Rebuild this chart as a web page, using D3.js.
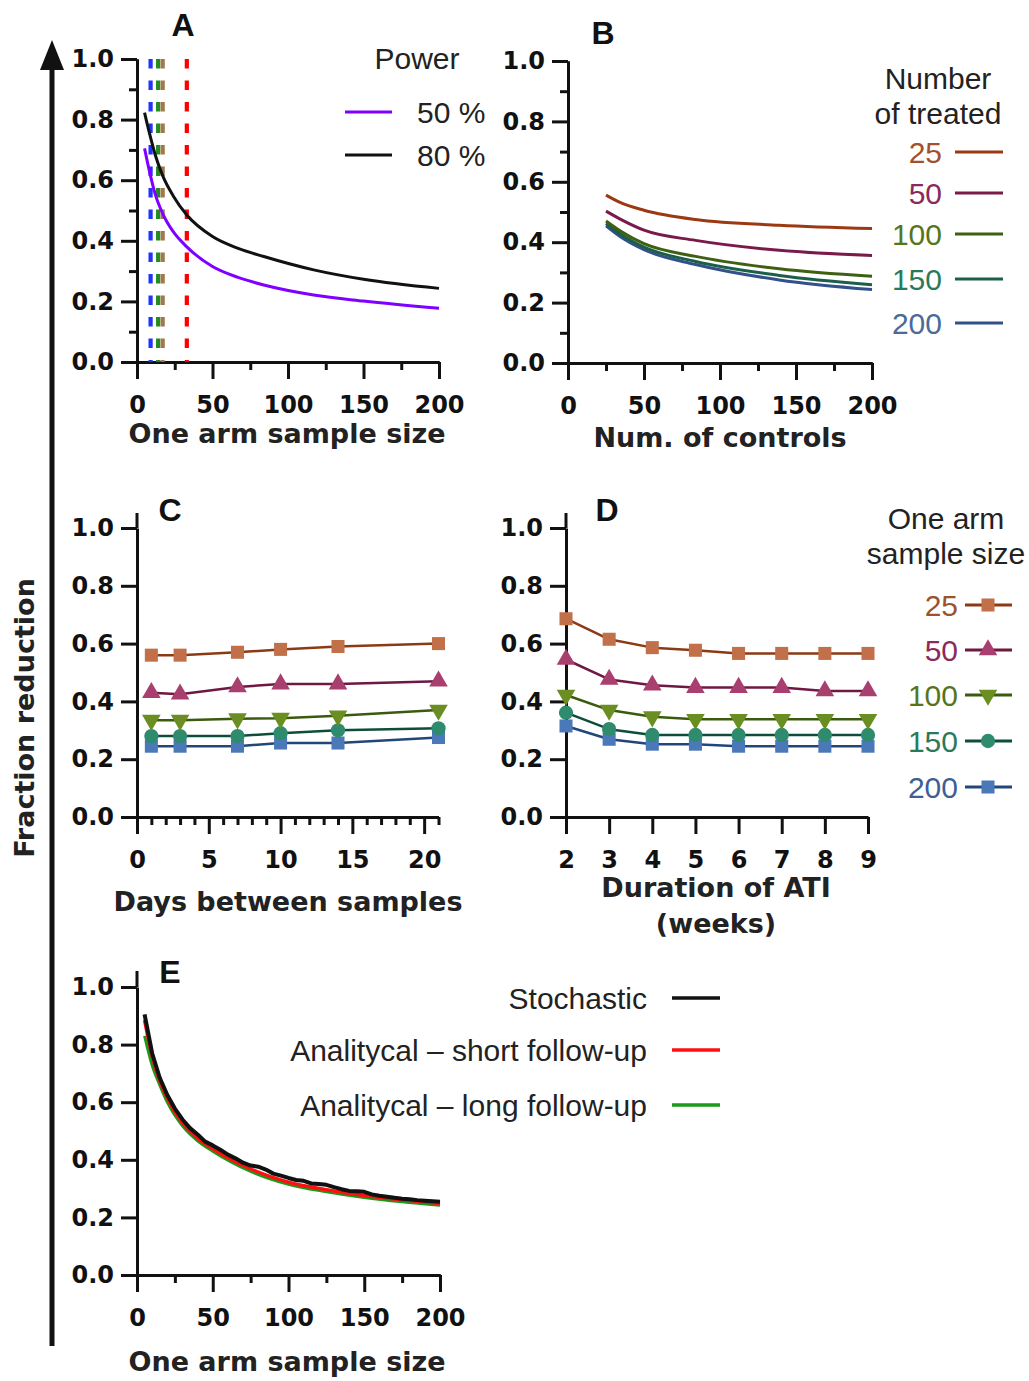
<!DOCTYPE html>
<html>
<head>
<meta charset="utf-8">
<script src="https://cdn.jsdelivr.net/npm/d3@7"></script>
<style>
body { margin: 0; background: #fff; }
</style>
</head>
<body>
<svg width="1029" height="1381"></svg>
<script>
var svg = d3.select("svg")

// ---------- data ----------
// A: fraction reduction vs one arm sample size, by power
var sampleA = [5, 8, 12, 17, 24, 33, 50, 67, 84, 117, 150, 200]
var power50 = [0.705, 0.635, 0.555, 0.49, 0.43, 0.38, 0.315, 0.279, 0.254, 0.221, 0.201, 0.177]
var power80 = [0.823, 0.76, 0.685, 0.615, 0.548, 0.485, 0.414, 0.375, 0.348, 0.304, 0.273, 0.243]
var powerLabels = ["50 %", "80 %"]
var dashSample = [9, 14, 17, 33]

// B: fraction reduction vs number of controls, by number of treated
var controlsB = [25, 35, 50, 84, 139, 200]
var treatedLabels = ["25", "50", "100", "150", "200"]
var treated25 = [0.556, 0.53, 0.506, 0.475, 0.456, 0.445]
var treated50 = [0.503, 0.475, 0.44, 0.406, 0.373, 0.356]
var treated100 = [0.47, 0.435, 0.395, 0.353, 0.312, 0.287]
var treated150 = [0.462, 0.425, 0.384, 0.336, 0.29, 0.259]
var treated200 = [0.454, 0.416, 0.375, 0.326, 0.275, 0.243]

// C: fraction reduction vs days between samples, by one arm sample size
var armLabels = ["25", "50", "100", "150", "200"]
var daysC = [1, 3, 7, 10, 14, 21]
var daysArm25 = [0.56, 0.56, 0.57, 0.58, 0.59, 0.60]
var daysArm50 = [0.43, 0.425, 0.45, 0.46, 0.46, 0.47]
var daysArm100 = [0.335, 0.335, 0.34, 0.342, 0.35, 0.37]
var daysArm150 = [0.28, 0.28, 0.28, 0.29, 0.30, 0.307]
var daysArm200 = [0.245, 0.245, 0.245, 0.256, 0.256, 0.275]

// D: fraction reduction vs duration of ATI (weeks)
var weeksD = [2, 3, 4, 5, 6, 7, 8, 9]
var weeksArm25 = [0.686, 0.615, 0.586, 0.577, 0.566, 0.566, 0.566, 0.566]
var weeksArm50 = [0.545, 0.476, 0.456, 0.448, 0.448, 0.448, 0.436, 0.436]
var weeksArm100 = [0.422, 0.37, 0.347, 0.338, 0.338, 0.338, 0.338, 0.338]
var weeksArm150 = [0.361, 0.304, 0.284, 0.284, 0.284, 0.284, 0.284, 0.284]
var weeksArm200 = [0.315, 0.269, 0.252, 0.252, 0.245, 0.245, 0.245, 0.245]

// E: stochastic vs analytical estimates
var methodLabels = ["Stochastic", "Analitycal \u2013 short follow-up", "Analitycal \u2013 long follow-up"]
var sampleStoch = [5, 10, 15, 20, 25, 30, 35, 40, 45, 50, 55, 60, 65, 70, 75, 80, 85, 90, 95, 100,
    105, 110, 115, 120, 125, 130, 135, 140, 145, 150, 155, 160, 165, 170, 175, 180, 185, 190, 195, 200]
var stochastic = [0.905, 0.77, 0.685, 0.625, 0.578, 0.54, 0.51, 0.488, 0.463, 0.45, 0.435, 0.418, 0.405, 0.39,
    0.38, 0.376, 0.366, 0.352, 0.345, 0.337, 0.33, 0.327, 0.318, 0.316, 0.313, 0.305, 0.298, 0.292, 0.291,
    0.289, 0.28, 0.275, 0.272, 0.268, 0.265, 0.263, 0.26, 0.258, 0.256, 0.254]
var sampleAnalytic = [5, 10, 15, 20, 30, 40, 50, 75, 100, 125, 150, 175, 200]
var shortFollow = [0.885, 0.76, 0.675, 0.615, 0.528, 0.475, 0.438, 0.368, 0.322, 0.296, 0.276, 0.261, 0.248]
var longFollow = [0.83, 0.728, 0.66, 0.60, 0.518, 0.466, 0.43, 0.36, 0.315, 0.289, 0.269, 0.254, 0.242]

var yTicks = [0, 0.2, 0.4, 0.6, 0.8, 1.0]
var yMinor = [0.1, 0.3, 0.5, 0.7, 0.9]

// ---------- styles ----------
var tickFont = "DejaVu Sans"
var legendFont = "Liberation Sans, Arial, sans-serif"
var lineColB = ["#9b3a12", "#7a1a4a", "#3f5f12", "#1a5f4a", "#34508a"]
var labelColB = ["#a0522d", "#8b2a5a", "#55751a", "#2a7a5a", "#4a6a9a"]
var lineColCD = ["#8b3a14", "#6e1843", "#3b5a0e", "#0e4d3b", "#22467a"]
var fillColCD = ["#c1704a", "#a93f6f", "#6b8e23", "#2e8b6e", "#4a78b8"]
var labelColCD = ["#a0522d", "#8b2a5a", "#55751a", "#2a7a5a", "#3e5f95"]
var dashCol = ["#2233ff", "#228b22", "#a0784a", "#ff0000"]

function styleAxis(g) {
    g.attr("font-family", null).attr("font-size", null)
    g.select(".domain").attr("stroke-width", 3).attr("stroke", "#111")
    g.selectAll(".tick line").attr("stroke-width", 3).attr("stroke", "#111")
    g.selectAll(".tick text")
        .attr("font-family", tickFont).attr("font-weight", "bold")
        .attr("font-size", 24).attr("fill", "#111")
}

function makePanel(xd, xr, yr, o) {
    var x = d3.scaleLinear().domain(xd).range(xr)
    var y = d3.scaleLinear().domain([0, 1]).range(yr)
    // y axis
    var gy = svg.append("g").attr("transform", "translate(" + xr[0] + ",0)")
    if (o.yMinor) {
        gy.call(d3.axisLeft(y).tickValues(yMinor).tickSize(8).tickSizeOuter(0).tickFormat(""))
        styleAxis(gy)
    }
    var gy2 = svg.append("g").attr("transform", "translate(" + xr[0] + ",0)")
        .call(d3.axisLeft(y).tickValues(yTicks).tickFormat(d3.format(".1f")).tickSize(16).tickPadding(7).tickSizeOuter(0))
    styleAxis(gy2)
    if (o.yExt) {
        svg.append("line").attr("x1", xr[0]).attr("x2", xr[0])
            .attr("y1", yr[1]).attr("y2", yr[1] - o.yExt)
            .attr("stroke", "#111").attr("stroke-width", 3)
    }
    // x axis
    var gx = svg.append("g").attr("transform", "translate(0," + yr[0] + ")")
    if (o.xMinor) {
        gx.call(d3.axisBottom(x).tickValues(o.xMinor).tickSize(8).tickSizeOuter(0).tickFormat(""))
        styleAxis(gx)
    }
    var gx2 = svg.append("g").attr("transform", "translate(0," + yr[0] + ")")
        .call(d3.axisBottom(x).tickValues(o.xTicks).tickFormat(d3.format("d")).tickSize(17).tickPadding(17).tickSizeOuter(0))
    styleAxis(gx2)
    return { x: x, y: y }
}

function drawLine(p, xs, ys, color, width, curve) {
    svg.append("path")
        .datum(xs.map(function (d, i) { return [d, ys[i]] }))
        .attr("fill", "none").attr("stroke", color).attr("stroke-width", width)
        .attr("stroke-linejoin", "round")
        .attr("d", d3.line().x(function (d) { return p.x(d[0]) }).y(function (d) { return p.y(d[1]) }).curve(curve))
}

function text(x, y, s, o) {
    return svg.append("text").attr("x", x).attr("y", y).attr("dy", "0.35em")
        .attr("font-family", o.font || legendFont)
        .attr("font-weight", o.bold ? "bold" : "normal")
        .attr("font-size", o.size || 30)
        .attr("text-anchor", o.anchor || "middle")
        .attr("fill", o.color || "#222")
        .text(s)
}

var markerShapes = [d3.symbolSquare, d3.symbolTriangle, d3.symbolTriangle, d3.symbolCircle, d3.symbolSquare]
var markerSizes = [170, 150, 150, 160, 170]
function marker(cx, cy, k) {
    svg.append("path")
        .attr("d", d3.symbol().type(markerShapes[k]).size(markerSizes[k])())
        .attr("transform", "translate(" + cx + "," + cy + ")" + (k == 2 ? " rotate(180)" : ""))
        .attr("fill", fillColCD[k])
}

// ---------- big y arrow + title ----------
svg.append("line").attr("x1", 52).attr("x2", 52).attr("y1", 1346).attr("y2", 66)
    .attr("stroke", "#111").attr("stroke-width", 5)
svg.append("path").attr("d", "M52,40 L64,70 L40,70 Z").attr("fill", "#111")
text(0, 0, "Fraction reduction", { font: tickFont, bold: true, size: 27, color: "#222" })
    .attr("transform", "translate(25,718) rotate(-90)")

// ---------- panel A ----------
var pA = makePanel([0, 200], [137, 439], [362, 59], {
    yMinor: true, xTicks: [0, 50, 100, 150, 200], xMinor: [25, 75, 125, 175]
})
dashSample.forEach(function (n, i) {
    svg.append("line").attr("x1", pA.x(n)).attr("x2", pA.x(n))
        .attr("y1", pA.y(1)).attr("y2", pA.y(0))
        .attr("stroke", dashCol[i]).attr("stroke-width", 4.2)
        .attr("stroke-dasharray", "9.5,12")
})
drawLine(pA, sampleA, power50, "#8000ff", 3, d3.curveMonotoneX)
drawLine(pA, sampleA, power80, "#111", 3, d3.curveMonotoneX)
text(183, 25, "A", { font: legendFont, bold: true, size: 32, color: "#111" })
text(287, 434, "One arm sample size", { font: tickFont, bold: true, size: 27 })
text(417, 58, "Power", {})
;["#8000ff", "#111"].forEach(function (c, i) {
    var yy = [112, 155][i]
    svg.append("line").attr("x1", 345).attr("x2", 392).attr("y1", yy).attr("y2", yy)
        .attr("stroke", c).attr("stroke-width", 3)
    text(417, yy, powerLabels[i], { anchor: "start" })
})

// ---------- panel B ----------
var pB = makePanel([0, 200], [568, 872], [363, 61], {
    yMinor: true, xTicks: [0, 50, 100, 150, 200], xMinor: [25, 75, 125, 175]
})
var seriesB = [treated25, treated50, treated100, treated150, treated200]
seriesB.slice().reverse().forEach(function (s, j) {
    var i = seriesB.length - 1 - j
    drawLine(pB, controlsB, s, lineColB[i], 3, d3.curveMonotoneX)
})
text(603, 33, "B", { font: legendFont, bold: true, size: 32, color: "#111" })
text(720, 438, "Num. of controls", { font: tickFont, bold: true, size: 27 })
text(938, 78, "Number", {})
text(938, 113, "of treated", {})
var legBY = [152, 193, 234, 279, 323]
treatedLabels.forEach(function (l, i) {
    text(942, legBY[i], l, { anchor: "end", color: labelColB[i] })
    svg.append("line").attr("x1", 955).attr("x2", 1003).attr("y1", legBY[i]).attr("y2", legBY[i])
        .attr("stroke", lineColB[i]).attr("stroke-width", 3)
})

// ---------- panel C ----------
var minorDays = []
for (var d = 1; d <= 21; d++) if (d % 5 != 0) minorDays.push(d)
var pC = makePanel([0, 21], [137, 438.5], [817, 528], {
    yExt: 15, xTicks: [0, 5, 10, 15, 20], xMinor: minorDays
})
var seriesC = [daysArm25, daysArm50, daysArm100, daysArm150, daysArm200]
seriesC.slice().reverse().forEach(function (s, j) {
    var i = seriesC.length - 1 - j
    drawLine(pC, daysC, s, lineColCD[i], 2.5, d3.curveLinear)
    daysC.forEach(function (dd, k) { marker(pC.x(dd), pC.y(s[k]), i) })
})
text(170, 510, "C", { font: legendFont, bold: true, size: 32, color: "#111" })
text(288, 902, "Days between samples", { font: tickFont, bold: true, size: 27 })

// ---------- panel D ----------
var pD = makePanel([2, 9], [566, 868], [817, 528], {
    yExt: 15, xTicks: weeksD
})
var seriesD = [weeksArm25, weeksArm50, weeksArm100, weeksArm150, weeksArm200]
seriesD.slice().reverse().forEach(function (s, j) {
    var i = seriesD.length - 1 - j
    drawLine(pD, weeksD, s, lineColCD[i], 2.5, d3.curveLinear)
    weeksD.forEach(function (w, k) { marker(pD.x(w), pD.y(s[k]), i) })
})
text(607, 510, "D", { font: legendFont, bold: true, size: 32, color: "#111" })
text(716, 888, "Duration of ATI", { font: tickFont, bold: true, size: 27 })
text(716, 924, "(weeks)", { font: tickFont, bold: true, size: 27 })
text(946, 518, "One arm", {})
text(946, 553, "sample size", {})
var legDY = [605, 650, 695, 741, 787]
armLabels.forEach(function (l, i) {
    text(958, legDY[i], l, { anchor: "end", color: labelColCD[i] })
    svg.append("line").attr("x1", 965).attr("x2", 1012).attr("y1", legDY[i]).attr("y2", legDY[i])
        .attr("stroke", lineColCD[i]).attr("stroke-width", 3)
    marker(988, legDY[i], i)
})

// ---------- panel E ----------
var pE = makePanel([0, 200], [137, 440], [1275, 987], {
    yExt: 16, xTicks: [0, 50, 100, 150, 200], xMinor: [25, 75, 125, 175]
})
drawLine(pE, sampleAnalytic, longFollow, "#1a9a1a", 3, d3.curveMonotoneX)
drawLine(pE, sampleAnalytic, shortFollow, "#ff1010", 3.5, d3.curveMonotoneX)
drawLine(pE, sampleStoch, stochastic, "#111", 4, d3.curveLinear)
text(170, 972, "E", { font: legendFont, bold: true, size: 32, color: "#111" })
text(287, 1362, "One arm sample size", { font: tickFont, bold: true, size: 27 })
var legEY = [998, 1050, 1105]
var legECol = ["#111", "#ff1010", "#1a9a1a"]
methodLabels.forEach(function (l, i) {
    text(647, legEY[i], l, { anchor: "end" })
    svg.append("line").attr("x1", 672).attr("x2", 720).attr("y1", legEY[i]).attr("y2", legEY[i])
        .attr("stroke", legECol[i]).attr("stroke-width", 3.5)
})
</script>
</body>
</html>
